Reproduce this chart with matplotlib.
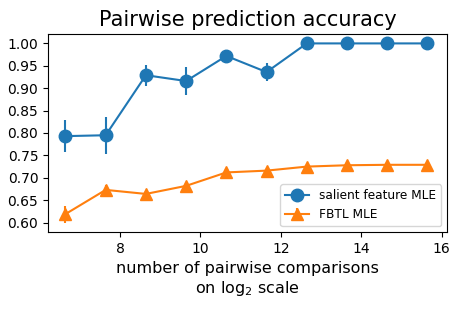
import numpy as np
import matplotlib
matplotlib.use("Agg")
import matplotlib.pyplot as plt

x = np.log2(100 * 2.0 ** np.arange(10))
salient = [0.793, 0.795, 0.929, 0.916, 0.972, 0.936, 1.0, 1.0, 1.0, 1.0]
salient_err = [0.035, 0.041, 0.023, 0.031, 0.010, 0.021, 0.0, 0.0, 0.0, 0.0]
fbtl = [0.619, 0.673, 0.664, 0.682, 0.712, 0.716, 0.725, 0.728, 0.729, 0.729]
fbtl_err = [0.019, 0.012, 0.006, 0.006, 0.005, 0.005, 0.004, 0.003, 0.003, 0.003]

fig = plt.figure(figsize=(4.63, 3.09), dpi=100)
ax = fig.add_axes([48/463, 1 - 232/309, 399/463, 198/309])
ax.errorbar(x, salient, yerr=salient_err, marker='o', markersize=9, color='#1f77b4', label='salient feature MLE')
ax.errorbar(x, fbtl, yerr=fbtl_err, marker='^', markersize=9, color='#ff7f0e', label='FBTL MLE')
ax.set_title('Pairwise prediction accuracy', fontsize=15)
ax.set_xlabel('number of pairwise comparisons\non log$_2$ scale', fontsize=11.5)
ax.set_xticks([8, 10, 12, 14, 16])
ax.set_yticks(np.arange(0.60, 1.001, 0.05))
ax.set_xlim(6.21, 16.13)
ax.set_ylim(0.579, 1.021)
ax.tick_params(labelsize=10)
ax.legend(loc='lower right', fontsize=8.7)
fig.savefig('out.png', dpi=100)
